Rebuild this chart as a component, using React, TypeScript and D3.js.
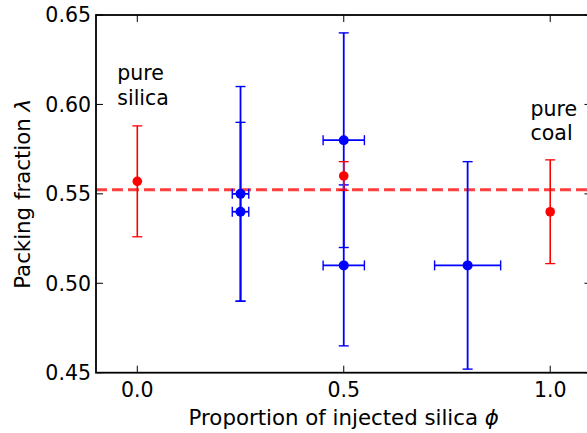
import React from "react";
import * as d3 from "d3";

const W = 587;
const H = 433;

// Pure samples (red)
const pureX = [0.0, 0.5, 1.0];
const pureY = [0.557, 0.560, 0.540];
const pureYErr = [0.031, 0.008, 0.029];

// Mixed injections (blue)
const mixX = [0.25, 0.25, 0.5, 0.5, 0.8];
const mixY = [0.55, 0.54, 0.58, 0.51, 0.51];
const mixXErr = [0.02, 0.02, 0.05, 0.05, 0.08];
const mixYErr = [0.06, 0.05, 0.06, 0.045, 0.058];

const meanLine = 0.5523;

const xTicks = [0.0, 0.5, 1.0];
const yTicks = [0.45, 0.5, 0.55, 0.6, 0.65];

const FONT = "DejaVu Sans, sans-serif";

export default function App() {
  const left = 96, right = 591.5, top = 15, bottom = 372.7;
  const x = d3.scaleLinear().domain([-0.1, 1.1]).range([left, right]);
  const y = d3.scaleLinear().domain([0.45, 0.65]).range([bottom, top]);
  const tickLen = 7;
  const cap = 5;
  const blue = "#0000ff";
  const red = "#ff0000";
  const fs = 20.5;
  const lfs = 21.3;

  return (
    <svg width={W} height={H} style={{ position: "absolute", left: 0, top: 0, background: "#fff" }} fontFamily={FONT}>
      <rect x={0} y={0} width={W} height={H} fill="#fff" />
      {/* mean dashed line */}
      <line x1={left} x2={right} y1={y(meanLine)} y2={y(meanLine)} stroke="#ff2a2a" strokeWidth={3} strokeDasharray="11,5" opacity={0.9} />

      {/* blue error bars */}
      {mixX.map((xv, i) => {
        const cx = x(xv), cy = y(mixY[i]);
        const y0 = y(mixY[i] - mixYErr[i]), y1 = y(mixY[i] + mixYErr[i]);
        const x0 = x(xv - mixXErr[i]), x1 = x(xv + mixXErr[i]);
        return (
          <g key={"b" + i} stroke={blue} strokeWidth={1.8}>
            <line x1={cx} x2={cx} y1={y0} y2={y1} />
            <line x1={cx - cap} x2={cx + cap} y1={y0} y2={y0} strokeWidth={1.4} />
            <line x1={cx - cap} x2={cx + cap} y1={y1} y2={y1} strokeWidth={1.4} />
            <line x1={x0} x2={x1} y1={cy} y2={cy} />
            <line x1={x0} x2={x0} y1={cy - cap} y2={cy + cap} strokeWidth={1.4} />
            <line x1={x1} x2={x1} y1={cy - cap} y2={cy + cap} strokeWidth={1.4} />
          </g>
        );
      })}
      {mixX.map((xv, i) => (
        <circle key={"bc" + i} cx={x(xv)} cy={y(mixY[i])} r={5} fill={blue} />
      ))}

      {/* red error bars */}
      {pureX.map((xv, i) => {
        const cx = x(xv);
        const y0 = y(pureY[i] - pureYErr[i]), y1 = y(pureY[i] + pureYErr[i]);
        return (
          <g key={"r" + i} stroke={red} strokeWidth={1.6}>
            <line x1={cx} x2={cx} y1={y0} y2={y1} />
            <line x1={cx - cap} x2={cx + cap} y1={y0} y2={y0} strokeWidth={1.3} />
            <line x1={cx - cap} x2={cx + cap} y1={y1} y2={y1} strokeWidth={1.3} />
          </g>
        );
      })}
      {pureX.map((xv, i) => (
        <circle key={"rc" + i} cx={x(xv)} cy={y(pureY[i])} r={4.8} fill={red} />
      ))}

      {/* ticks */}
      {xTicks.map((t) => (
        <g key={"xt" + t} stroke="#000" strokeWidth={1}>
          <line x1={x(t)} x2={x(t)} y1={bottom} y2={bottom - tickLen} />
          <line x1={x(t)} x2={x(t)} y1={top} y2={top + tickLen} />
        </g>
      ))}
      {yTicks.map((t) => (
        <g key={"yt" + t} stroke="#000" strokeWidth={1}>
          <line x1={left} x2={left + tickLen} y1={y(t)} y2={y(t)} />
          <line x1={right} x2={right - tickLen} y1={y(t)} y2={y(t)} />
        </g>
      ))}

      {/* frame */}
      <rect x={left} y={top} width={right - left} height={bottom - top} fill="none" stroke="#000" strokeWidth={1.8} />

      {/* tick labels */}
      {xTicks.map((t) => (
        <text key={"xl" + t} x={x(t)} y={397} textAnchor="middle" fontSize={fs} fill="#000">
          {d3.format(".1f")(t)}
        </text>
      ))}
      {yTicks.map((t) => (
        <text key={"yl" + t} x={91} y={y(t) + 7.4} textAnchor="end" fontSize={fs} fill="#000">
          {d3.format(".2f")(t)}
        </text>
      ))}

      {/* axis labels */}
      <text x={(left + right) / 2} y={425} textAnchor="middle" fontSize={lfs} fill="#000">
        Proportion of injected silica <tspan fontStyle="italic">ϕ</tspan>
      </text>
      <text transform={`translate(29.5,${(top + bottom) / 2}) rotate(-90)`} textAnchor="middle" fontSize={lfs} fill="#000">
        Packing fraction <tspan fontStyle="italic">λ</tspan>
      </text>

      {/* annotations */}
      <text x={117.3} y={80} fontSize={fs} fill="#000">pure</text>
      <text x={117.3} y={104.5} fontSize={fs} fill="#000">silica</text>
      <text x={530.5} y={115.5} fontSize={fs} fill="#000">pure</text>
      <text x={530.5} y={140} fontSize={fs} fill="#000">coal</text>
    </svg>
  );
}
